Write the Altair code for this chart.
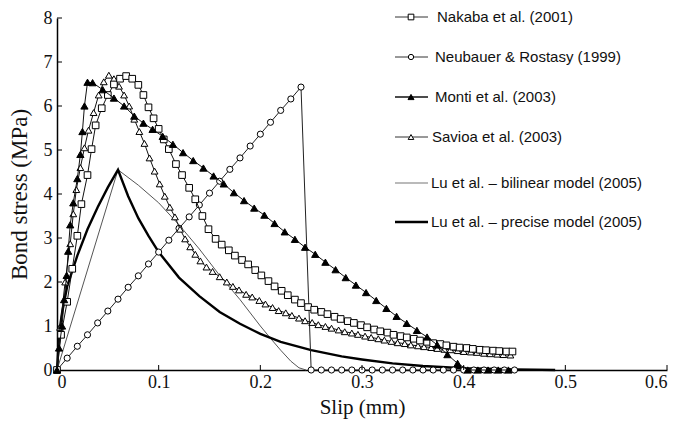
import altair as alt
import pandas as pd

# ---------------- data ----------------
NAK_X = [0, 0.004, 0.010, 0.015, 0.020, 0.024, 0.030, 0.034, 0.038, 0.044,
         0.050, 0.056, 0.062, 0.068, 0.074, 0.080, 0.085, 0.090, 0.095, 0.100,
         0.105, 0.110, 0.117, 0.123, 0.130, 0.136, 0.143, 0.149, 0.156, 0.162,
         0.169, 0.175, 0.182, 0.188, 0.195, 0.201, 0.208, 0.214, 0.221, 0.227,
         0.234, 0.240, 0.247, 0.253, 0.260, 0.266, 0.273, 0.279, 0.286, 0.292,
         0.299, 0.305, 0.312, 0.318, 0.325, 0.331, 0.338, 0.344, 0.351, 0.357,
         0.364, 0.370, 0.377, 0.383, 0.390, 0.396, 0.403, 0.409, 0.416, 0.422,
         0.429, 0.435, 0.442, 0.448]
NAK_Y = [0, 0.8, 1.55, 2.3, 3.05, 3.77, 4.43, 5.02, 5.56, 5.95,
         6.25, 6.49, 6.62, 6.68, 6.62, 6.48, 6.25, 5.97, 5.72, 5.48,
         5.24, 5.02, 4.68, 4.43, 4.14, 3.88, 3.5, 3.2, 2.98, 2.85,
         2.72, 2.6, 2.5, 2.4, 2.27, 2.15, 2.02, 1.9, 1.8, 1.7,
         1.6, 1.52, 1.43, 1.37, 1.32, 1.27, 1.21, 1.16, 1.11, 1.07,
         1.02, 0.97, 0.92, 0.88, 0.85, 0.8, 0.77, 0.74, 0.71, 0.67,
         0.64, 0.61, 0.59, 0.56, 0.53, 0.51, 0.5, 0.48, 0.46, 0.45,
         0.44, 0.43, 0.42, 0.42]

NEU_X = [0, 0.01, 0.02, 0.03, 0.04, 0.05, 0.06, 0.07, 0.08, 0.09,
         0.10, 0.11, 0.12, 0.13, 0.14, 0.15, 0.16, 0.17, 0.18, 0.19,
         0.20, 0.21, 0.22, 0.23, 0.24,
         0.25, 0.26, 0.27, 0.28, 0.29, 0.30, 0.31, 0.32, 0.33, 0.34,
         0.35, 0.36, 0.37, 0.38, 0.39, 0.40, 0.41, 0.42, 0.43, 0.44, 0.45]
NEU_Y = [0, 0.27, 0.54, 0.80, 1.07, 1.34, 1.61, 1.88, 2.14, 2.41,
         2.68, 2.95, 3.22, 3.48, 3.75, 4.02, 4.29, 4.56, 4.82, 5.09,
         5.36, 5.63, 5.90, 6.16, 6.43,
         0, 0, 0, 0, 0, 0, 0, 0, 0, 0,
         0, 0, 0, 0, 0, 0, 0, 0, 0, 0, 0]

MON_X = [0, 0.002, 0.005, 0.007, 0.0095, 0.011, 0.013, 0.016, 0.020, 0.023,
         0.025, 0.027, 0.030, 0.035, 0.045, 0.056, 0.066, 0.076, 0.085,
         0.094, 0.104, 0.114, 0.124, 0.134, 0.144, 0.154, 0.164, 0.174, 0.184,
         0.194, 0.204, 0.214, 0.224, 0.234, 0.244, 0.254, 0.264, 0.274, 0.284,
         0.294, 0.304, 0.314, 0.324, 0.334, 0.344, 0.354, 0.364, 0.374, 0.384,
         0.394, 0.404, 0.414, 0.424, 0.434, 0.444]
MON_Y = [0, 0.5, 1.0, 1.6, 2.15, 2.7, 3.3, 3.8, 4.35, 4.9,
         5.42, 6.0, 6.54, 6.53, 6.37, 6.18, 6.0, 5.77, 5.61,
         5.47, 5.31, 5.13, 4.94, 4.76, 4.59, 4.41, 4.23, 4.03, 3.85,
         3.68, 3.52, 3.33, 3.14, 2.97, 2.79, 2.63, 2.45, 2.28, 2.1,
         1.93, 1.76, 1.58, 1.4, 1.22, 1.06, 0.9, 0.75, 0.57, 0.35,
         0.15, 0, 0, 0, 0, 0]

SAV_X = [0, 0.003, 0.008, 0.013, 0.016, 0.019, 0.023, 0.027, 0.031, 0.036,
         0.041, 0.046, 0.051, 0.056, 0.061, 0.066, 0.071, 0.076, 0.081, 0.086,
         0.091, 0.096, 0.101, 0.106, 0.111, 0.116, 0.121, 0.126, 0.131, 0.136,
         0.141, 0.147, 0.153, 0.160, 0.167, 0.173, 0.179, 0.186, 0.192, 0.199,
         0.205, 0.212, 0.218, 0.225, 0.231, 0.238, 0.244, 0.251, 0.257, 0.264,
         0.270, 0.277, 0.283, 0.290, 0.296, 0.303, 0.309, 0.316, 0.322, 0.329,
         0.335, 0.342, 0.348, 0.355, 0.361, 0.368, 0.374, 0.381, 0.387, 0.394,
         0.400, 0.407, 0.413, 0.420, 0.426, 0.433, 0.439, 0.446]
SAV_Y = [0, 0.97, 2.0, 2.87, 3.55, 4.1, 4.6, 5.05, 5.45, 5.85,
         6.25, 6.55, 6.7, 6.62, 6.45, 6.25, 6.0, 5.7, 5.42, 5.15,
         4.82, 4.52, 4.23, 3.95, 3.7, 3.48, 3.2, 2.98, 2.8, 2.63,
         2.48, 2.34, 2.24, 2.12, 2.0, 1.9, 1.82, 1.72, 1.66, 1.58,
         1.5, 1.42, 1.35, 1.3, 1.24, 1.18, 1.12, 1.08, 1.03, 0.99,
         0.95, 0.91, 0.87, 0.84, 0.81, 0.77, 0.74, 0.71, 0.68, 0.65,
         0.62, 0.6, 0.57, 0.55, 0.53, 0.51, 0.49, 0.47, 0.46, 0.44,
         0.42, 0.41, 0.4, 0.38, 0.37, 0.36, 0.35, 0.34]

BIL_X = [0, 0.06, 0.08, 0.10, 0.12, 0.14, 0.16, 0.18, 0.20, 0.21, 0.22, 0.23, 0.238, 0.245]
BIL_Y = [0, 4.55, 4.2, 3.8, 3.3, 2.75, 2.15, 1.6, 1.0, 0.72, 0.45, 0.2, 0.05, 0]

PRE_X = [0, 0.0025, 0.005, 0.01, 0.02, 0.03, 0.04, 0.05, 0.06, 0.07, 0.08, 0.09,
         0.10, 0.12, 0.14, 0.16, 0.18, 0.20, 0.22, 0.25, 0.28, 0.30, 0.33, 0.36,
         0.40, 0.45, 0.49]
PRE_Y = [0, 0.9, 1.3, 1.9, 2.6, 3.2, 3.7, 4.15, 4.55, 3.95, 3.45, 3.05,
         2.68, 2.1, 1.68, 1.32, 1.05, 0.82, 0.64, 0.45, 0.31, 0.24, 0.15, 0.09,
         0.04, 0.015, 0]

X_TICKS = [0, 0.1, 0.2, 0.3, 0.4, 0.5, 0.6]
Y_TICKS = [0, 1, 2, 3, 4, 5, 6, 7, 8]

LEGEND_LABELS = ["Nakaba et al. (2001)", "Neubauer & Rostasy (1999)", "Monti et al. (2003)",
                 "Savioa et al. (2003)", "Lu et al. – bilinear model (2005)",
                 "Lu et al. – precise model (2005)"]

# ---------------- layout / style ----------------
W, H = 610, 352
SERIF = "Liberation Serif"
SANS = "Liberation Sans"

x_scale = alt.Scale(domain=[0, 0.6], nice=False, zero=False)
y_scale = alt.Scale(domain=[0, 8], nice=False)
x_axis = alt.Axis(title="Slip (mm)", values=X_TICKS, format="~g", ticks=False, tickSize=0,
                  labelPadding=3, titlePadding=5, grid=False)
y_axis = alt.Axis(title="Bond stress (MPa)", values=Y_TICKS, format="d", ticks=False, tickSize=0,
                  labelPadding=5, titlePadding=12, grid=False)


def X():
    return alt.X("slip:Q", scale=x_scale, axis=x_axis)


def Y():
    return alt.Y("stress:Q", scale=y_scale, axis=y_axis)


def frame(xs, ys):
    return pd.DataFrame({"slip": xs, "stress": ys})


def line(xs, ys, color="#111", width=1.0):
    return alt.Chart(frame(xs, ys)).mark_line(color=color, strokeWidth=width).encode(
        x=X(), y=Y(), order=alt.Order("idx:Q")
    ).transform_window(idx="row_number()")


def points(xs, ys, shape, filled, size):
    return alt.Chart(frame(xs, ys)).mark_point(
        shape=shape, filled=True, size=size,
        fill="black" if filled else "white", stroke="black", strokeWidth=1, opacity=1
    ).encode(x=X(), y=Y())


layers = [
    line(BIL_X, BIL_Y, color="#555", width=1.0),
    line(PRE_X, PRE_Y, color="#000", width=2.4),
    line(NEU_X, NEU_Y, color="#222", width=1.0),
    points(NEU_X, NEU_Y, "circle", False, 38),
    line(SAV_X, SAV_Y),
    points(SAV_X, SAV_Y, "triangle-up", False, 46),
    line(NAK_X, NAK_Y),
    points(NAK_X, NAK_Y, "square", False, 44),
    line(MON_X, MON_Y),
    points(MON_X, MON_Y, "triangle-up", True, 52),
]

# inward tick marks
xt = pd.DataFrame({"slip": X_TICKS[1:]})
yt = pd.DataFrame({"stress": Y_TICKS[1:]})
layers.append(alt.Chart(xt).mark_rule(color="black", strokeWidth=1).encode(
    x=X(), y=alt.value(H), y2=alt.value(H - 5)))
layers.append(alt.Chart(yt).mark_rule(color="black", strokeWidth=1).encode(
    y=Y(), x=alt.value(0), x2=alt.value(5)))

# manual legend
LEG_ROW_Y = [-1, 39, 79, 119, 165, 204]
LEG_STYLE = [
    dict(shape="square", filled=False, lc="#333", lw=1.0, size=32),
    dict(shape="circle", filled=False, lc="#333", lw=1.0, size=28),
    dict(shape="triangle-up", filled=True, lc="#111", lw=1.3, size=36),
    dict(shape="triangle-up", filled=False, lc="#333", lw=1.0, size=32),
    dict(shape=None, filled=False, lc="#777", lw=1.2, size=0),
    dict(shape=None, filled=False, lc="#000", lw=2.6, size=0),
]
LEG_TEXT_X = [380, 378, 378, 375, 374, 374]
for lab, ry, st, tx in zip(LEGEND_LABELS, LEG_ROW_Y, LEG_STYLE, LEG_TEXT_X):
    d = pd.DataFrame({"label": [lab]})
    layers.append(alt.Chart(d).mark_rule(color=st["lc"], strokeWidth=st["lw"]).encode(
        x=alt.value(338), x2=alt.value(371), y=alt.value(ry)))
    if st["shape"]:
        layers.append(alt.Chart(d).mark_point(
            shape=st["shape"], filled=True, size=st["size"],
            fill="black" if st["filled"] else "white", stroke="black", strokeWidth=1, opacity=1
        ).encode(x=alt.value(354), y=alt.value(ry)))
    layers.append(alt.Chart(d).mark_text(
        align="left", baseline="middle", font=SANS, fontSize=15, color="#111"
    ).encode(x=alt.value(tx), y=alt.value(ry), text="label:N"))

chart = alt.layer(*layers).properties(
    width=W, height=H,
    autosize=alt.AutoSizeParams(type="none"),
    padding={"left": 49, "top": 10, "right": 6, "bottom": 52},
).configure_view(stroke=None).configure_axis(
    domainColor="black", domainWidth=1.5, labelFont=SERIF, labelFontSize=18,
    labelColor="#111", titleFont=SERIF, titleFontWeight="normal", titleColor="#111",
).configure_axisX(titleFontSize=21).configure_axisY(titleFontSize=23)

chart.save("out.html", embed_options={"renderer": "svg", "actions": False})
